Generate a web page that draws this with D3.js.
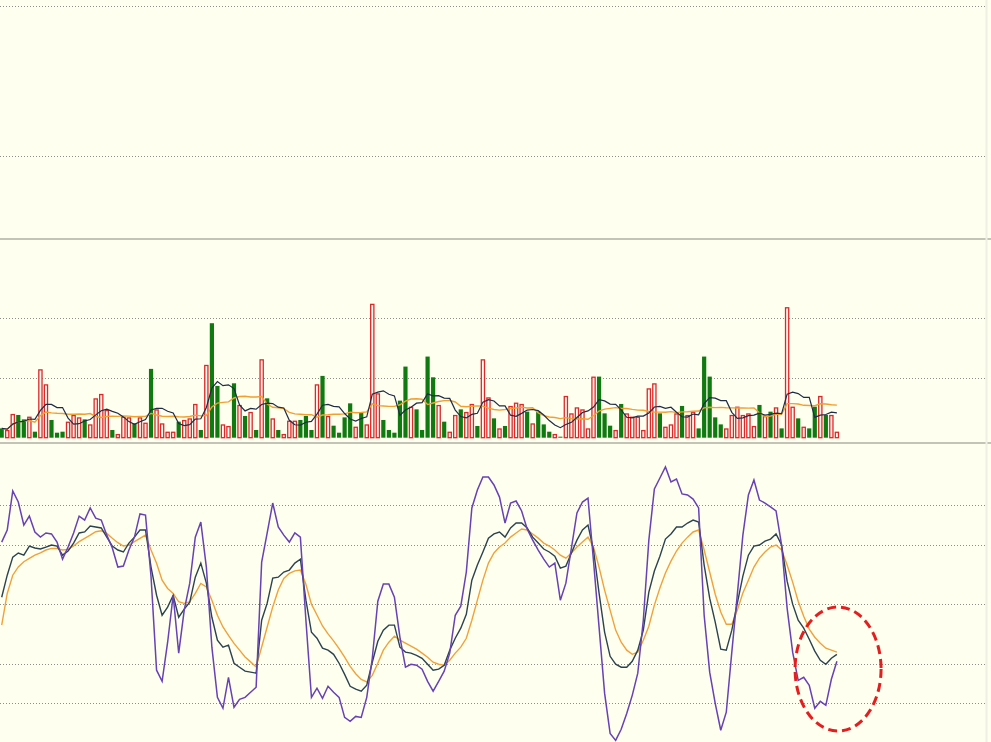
<!DOCTYPE html>
<html><head><meta charset="utf-8">
<script src="https://cdn.jsdelivr.net/npm/d3@7"></script>
<style>html,body{margin:0;padding:0;background:#fffff0;overflow:hidden}</style>
</head><body>
<script>
// ---- data ----
const volume = [
 9.3,7.7,23.7,22.7,18.3,21,6,68.3,53.3,17.7,
 5,6,16,22.7,20.3,18.3,13.3,39.3,43.7,27.7,
 7.7,3.7,21,20.3,14.3,20.3,15,68.7,28.3,14.3,
 6,6,16,17.7,19.3,33.7,7.7,72.7,114.3,51.7,
 13.3,11.7,54.3,32.7,21.7,25.7,7.7,78.3,39.3,19.3,
 7.7,3.7,17,17,17.7,21.7,7.7,53.3,61.7,21.7,
 12,5,20.3,34.3,11,25,13.3,133.7,44.3,17.7,
 7.7,5,37,71,31,28.3,7.7,81,60.3,32.7,
 16,6,22.7,28.3,25.7,33.7,11.7,78.3,40.3,19.3,
 9.3,11.7,31.7,35,33.7,26,14.3,26,13.3,6,
 3.7,1,41.7,24.3,30.3,28.3,9.3,61,61,24.3,
 12,7.7,33.7,24.3,21,21,7.7,49.3,54.3,24.3,
 11,13.3,24.3,31.7,22.7,26,9.3,81,61,20.3,
 13.3,9.3,22.7,31,22.7,24.3,11.7,32.7,21.7,26,
 30.3,9.3,130.3,31,19.3,11,9.3,31,41.7,22.7,
 22.7,6];
// 1 = up day (red hollow bar), 0 = down day (green solid bar)
const upDay = [
 0,1,1,0,0,1,0,1,1,0,
 0,0,1,1,1,0,1,1,1,1,
 0,1,1,1,0,1,1,0,1,1,
 1,1,0,1,1,1,0,1,0,0,
 1,1,0,1,0,1,0,1,0,1,
 0,1,1,1,0,0,0,1,0,1,
 0,0,0,0,1,0,1,1,1,0,
 0,0,0,0,1,0,0,0,0,1,
 0,1,1,0,1,1,0,1,1,0,
 1,0,1,1,1,0,1,0,0,0,
 1,0,1,1,1,1,1,1,0,0,
 0,1,0,1,1,1,1,1,1,0,
 1,1,1,0,1,1,0,0,0,0,
 0,1,1,1,1,1,1,0,1,0,
 1,0,1,1,0,1,0,0,1,0,
 1,1];
const kLine = [
 53.5,64.6,73.7,75.8,74.7,79.3,78.3,77.8,78.8,79.8,
 79.3,74.7,76.8,80.8,85.9,86.4,89.4,88.9,88.4,83.8,
 79.3,77.3,76.3,80.8,83.8,87.4,87.4,68.7,54.5,44.4,
 48.5,54.5,43.4,47.5,51,63.6,70.7,60.6,43.4,31.8,
 28.3,29.3,20.2,18.2,16.2,15.7,15.2,41.9,50.5,63.1,
 63.6,66.2,67.2,70.7,72.7,52,35.9,32.8,27.8,26.8,
 24.7,20.2,14.6,8.6,7.1,6.1,9.1,20.7,31.3,36.9,
 39.4,39.4,28.3,25.8,25.3,24.2,22.7,19.7,16.7,17.2,
 19.2,26.8,32.8,37.9,44.9,62.1,69.7,76.3,83.3,85.4,
 86.4,83.8,88.4,90.9,90.9,88.4,83.8,80.8,77.8,76.3,
 74.2,68.2,69.2,75.8,82.3,87.4,89.9,77.3,55.6,35.9,
 23.7,19.7,18.2,18.2,21.2,26.8,36.9,56.1,66.7,74.2,
 82.8,85.4,88.9,88.9,90.9,92.4,91.4,69.7,53,40.9,
 27.3,26.8,36.9,50.5,64.1,74.7,79.3,79.8,81.8,82.8,
 85.4,79.8,61.6,50,41.9,37.9,32.3,26.3,21.7,19.7,
 22.7,24.7];
const dLine = [
 39.4,55.4,64.6,68.8,71.4,73.1,74.7,75.9,77.3,78.1,
 78.1,77.3,77.6,79.3,81.5,83.2,84.8,86.5,87,85.7,
 83.2,81,79.3,79.8,81.5,83.2,84.8,77.3,70.6,62.1,
 57.9,55.4,51.2,50.4,51.2,55.4,60.4,58.7,52,44.4,
 38.5,34.3,30.2,26.8,23.4,20.9,18.3,28.4,38.5,48.6,
 57.1,63,65.5,66.8,67.2,60,50,44.5,39,35,
 31.5,27.6,23.3,18.6,14.9,12,10.8,14.1,20.2,26.8,
 30.8,33.8,31.8,30.3,28.8,27.3,25.3,23.2,20.7,19.7,
 19.2,21.7,25.3,28.3,32.8,41.9,52,62.1,70.7,75.8,
 78.8,80.8,83.8,85.9,87.9,87.4,85.4,83.3,80.8,79.3,
 77.3,74.7,73.2,75.8,78.8,81.3,83.8,78.8,68.7,57.1,
 47,36.9,30.8,26.8,24.7,25.8,31.8,38.9,49.5,58.1,
 65.7,71.7,76.8,80.8,83.8,86.4,87.4,77.3,66.2,55,
 46,39.9,39.9,47,55.6,62.1,68.7,73.2,76.3,78.8,
 79.8,77.3,69.7,61.1,51.5,43.9,37.4,33.3,30.3,27.8,
 26.8,25.8];
const jLine = [
 81.3,87.4,107.1,101.5,89.9,94.4,86.4,83.8,85.9,85.4,
 81.3,72.7,78.8,85.9,94.4,92.4,98.5,93.4,92.4,84.8,
 78.3,68.7,69.2,77.3,83.8,95.5,94.9,63.8,16.7,11.1,
 30.8,54.5,25.3,47,60.6,83.8,91.4,68.7,28.3,3,
 -2.5,13.1,-2,2,3,5.6,8.1,71.2,85.9,101,
 88.9,84.8,81.3,85.9,83.8,41.9,3,7.6,2.5,8.6,
 5.6,3,-7.1,-9.1,-6.6,-7.1,3,22.7,51.5,60.1,
 60.1,53.5,33.3,18.2,19.7,19.2,17.2,11.1,6.1,11.1,
 16.2,25.3,44.4,49,66.2,98.5,107.6,114.1,114.1,110.1,
 104,90.9,101,102,97,87.9,82.3,77.3,72.7,68.7,
 70.7,52,60.6,78.3,96,101.5,103.5,71.7,38.4,5.1,
 -15.2,-18.7,-13.1,-5.1,4,15.2,41.9,82.3,108.1,113.6,
 119.2,111.6,113.1,105.6,105.1,103,98.5,44.4,15.7,0,
 -13.6,-4.5,25.8,55,84.8,105.1,112.6,102.5,101,99,
 97,79.8,48,25.8,11.6,13.1,9.1,-2.5,1,-1,
 12.1,21.2];
const priceGridTicks = [100, 50];
const volumeGridTicks = [60, 120];
const kdjGridTicks = [0, 20, 50, 80, 100];
const highlightIndex = [146, 151]; // the circled last bars

// ---- layout ----
const W = 991, H = 742;
const svg = d3.select("body").append("svg").attr("width", W).attr("height", H);
svg.append("rect").attr("width", W).attr("height", H).attr("fill", "#fffff0");

const n = volume.length;
const x = d3.scaleLinear().domain([0, n - 1]).range([1.7, 836.9]);
const yPrice = d3.scaleLinear().domain([50, 100]).range([156, 6]);
const yVol = d3.scaleLinear().domain([0, 120]).range([437.7, 317.5]);
const yKdj = d3.scaleLinear().domain([0, 100]).range([703.3, 505]);

function grid(ticks, scale) {
  svg.append("g").selectAll("line").data(ticks).join("line")
    .attr("x1", 0).attr("x2", 986)
    .attr("y1", d => Math.round(scale(d)) + 0.5).attr("y2", d => Math.round(scale(d)) + 0.5)
    .attr("stroke", "#8e8e88").attr("stroke-width", 1).attr("stroke-dasharray", "1,2");
}
grid(priceGridTicks, yPrice);
grid(volumeGridTicks, yVol);
grid(kdjGridTicks, yKdj);

// panel separators
[239, 443].forEach(y => svg.append("line").attr("x1", 0).attr("x2", W)
  .attr("y1", y).attr("y2", y).attr("stroke", "#c4c4b6").attr("stroke-width", 2));
svg.append("line").attr("x1", 986.5).attr("x2", 986.5).attr("y1", 0).attr("y2", H)
  .attr("stroke", "#efefe2").attr("stroke-width", 2);

// volume bars
const bars = svg.append("g");
volume.forEach((v, i) => {
  const cx = x(i), top = yVol(v), base = yVol(0);
  if (upDay[i]) {
    bars.append("rect").attr("x", cx - 1.6).attr("y", top + 0.6)
      .attr("width", 3.2).attr("height", Math.max(0.5, base - top - 0.6))
      .attr("fill", "#fff6ee").attr("stroke", "#dc2828").attr("stroke-width", 1.3);
  } else {
    bars.append("rect").attr("x", cx - 2.1).attr("y", top)
      .attr("width", 4.2).attr("height", base - top).attr("fill", "#0f7a0f");
  }
});

// volume moving averages (5 and 10 periods of the bars above)
function movingAvg(arr, p) {
  return arr.map((_, i) => {
    const s = arr.slice(Math.max(0, i - p + 1), i + 1);
    return d3.mean(s);
  });
}
const ma5 = movingAvg(volume, 5), ma10 = movingAvg(volume, 10);
const volLine = d3.line().x((d, i) => x(i)).y(d => yVol(d));
svg.append("path").datum(ma10).attr("d", volLine).attr("fill", "none")
  .attr("stroke", "#f0a030").attr("stroke-width", 1.4);
svg.append("path").datum(ma5).attr("d", volLine).attr("fill", "none")
  .attr("stroke", "#1e2c46").attr("stroke-width", 1.2);

// KDJ lines
const kdjLine = d3.line().x((d, i) => x(i)).y(d => yKdj(d));
svg.append("path").datum(dLine).attr("d", kdjLine).attr("fill", "none")
  .attr("stroke", "#f0a23a").attr("stroke-width", 1.4);
svg.append("path").datum(kLine).attr("d", kdjLine).attr("fill", "none")
  .attr("stroke", "#2b4350").attr("stroke-width", 1.4);
svg.append("path").datum(jLine).attr("d", kdjLine).attr("fill", "none")
  .attr("stroke", "#6642b4").attr("stroke-width", 1.5);

// dashed red highlight ellipse around the last bars
const ex0 = x(highlightIndex[0]), ex1 = x(highlightIndex[1]);
svg.append("ellipse")
  .attr("cx", (ex0 + ex1) / 2 + 15).attr("cy", 669)
  .attr("rx", 43).attr("ry", 62)
  .attr("fill", "none").attr("stroke", "#e41e1e").attr("stroke-width", 3)
  .attr("stroke-dasharray", "9,5");
</script>
</body></html>
